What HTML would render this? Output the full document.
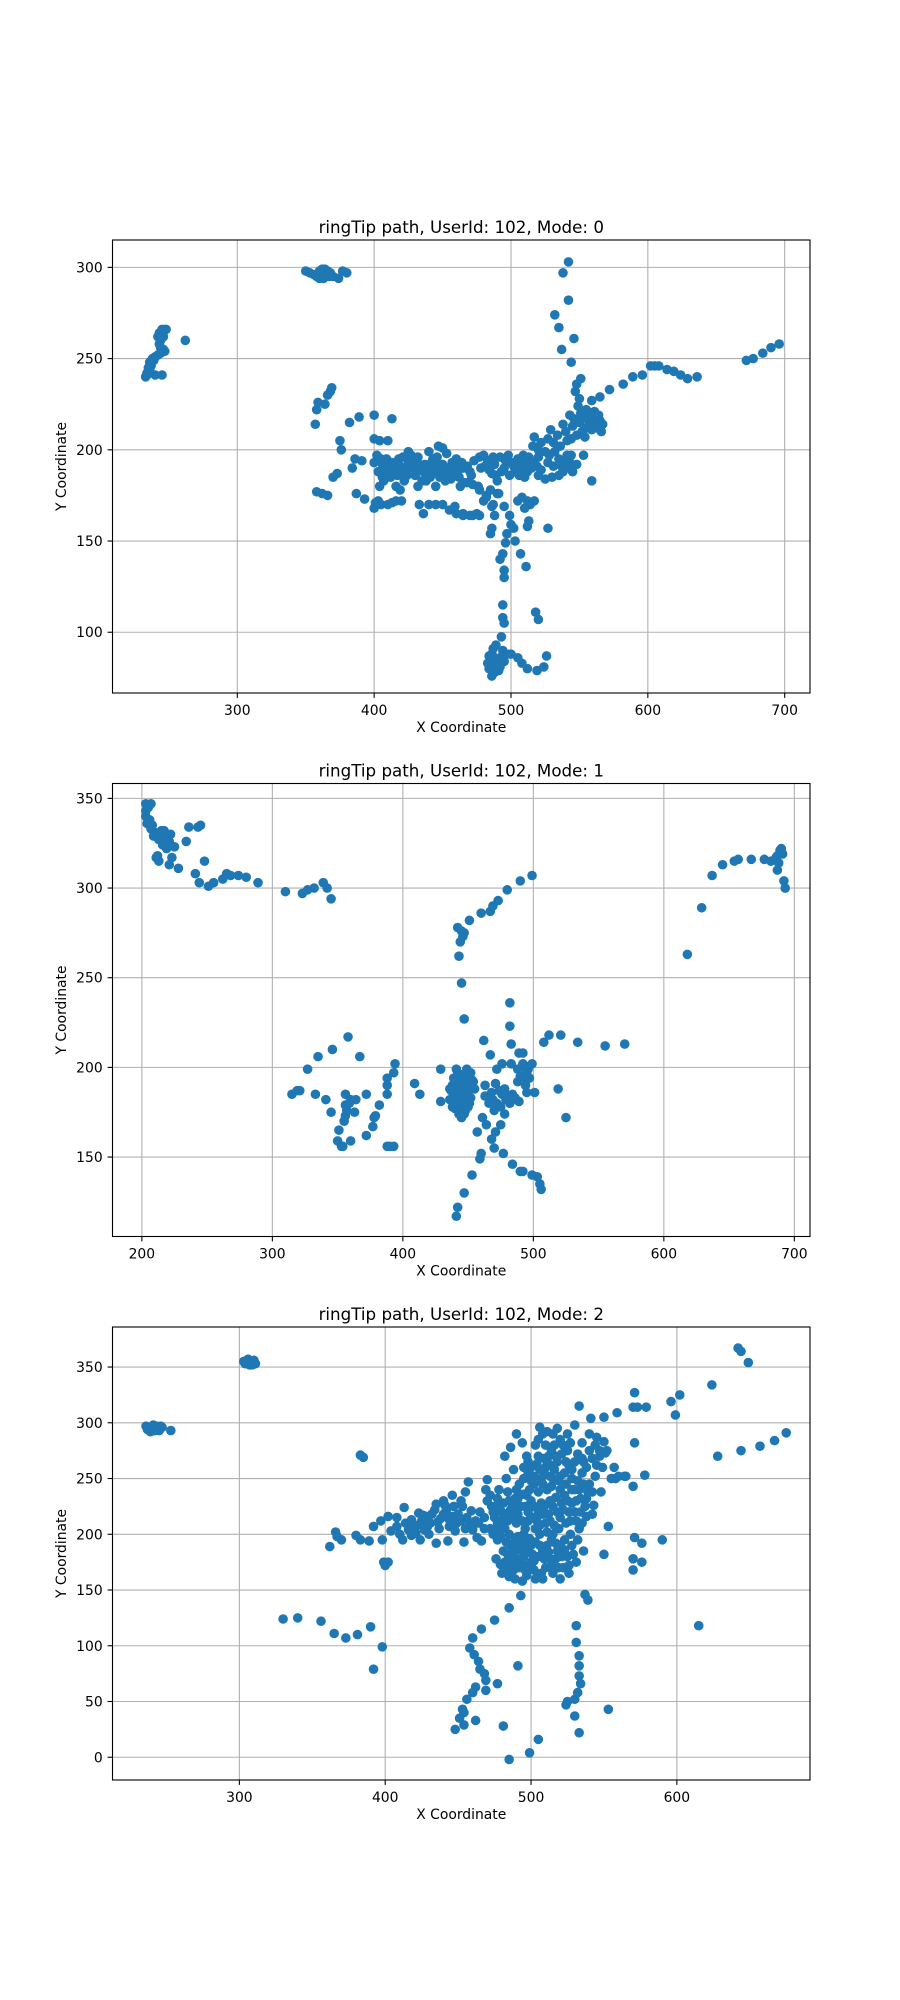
<!DOCTYPE html>
<html><head><meta charset="utf-8"><title>ringTip path</title>
<style>
html,body{margin:0;padding:0;background:#fff;}
svg{display:block;font-family:"DejaVu Sans","Liberation Sans",sans-serif;}
</style></head>
<body>
<svg id="fig" width="900" height="2000" viewBox="0 0 900 2000" xmlns="http://www.w3.org/2000/svg"></svg>
<script>
const mode0Points = [
[233,240],[234,242],[235,245],[236,248],[238,250],[240,251],[242,252],[244,253],[246,255],[247,254],[243,258],[242,262],[243,264],[245,266],[247,266],[248,266],[244,260],[240,241],[245,241],[262,260],[236,244],[234,241],[237,246],[239,249],[244,256],[246,262],
[350,298],[353,297],[356,296],[358,295],[360,294],[362,299],[364,299],[366,298],[363,294],[367,295],[370,295],[374,294],[377,298],[380,297],[360,298],[365,296],[361,296],[368,297],
[357,214],[358,222],[359,226],[364,225],[366,230],[368,232],[369,234],
[370,185],[373,187],[375,205],[376,200],[382,215],[389,218],[400,219],[413,217],[386,195],[391,194],[384,190],[387,176],[393,173],[358,177],[362,176],[366,175],[400,168],[401,171],[405,170],[410,170],[413,171],[416,172],[400,206],[404,205],[400,193],
[405,195],[408,188],[410,192],[412,185],[415,190],[418,195],[420,188],[422,183],[425,193],[428,190],[430,186],[433,192],[436,188],[438,183],[440,190],[443,195],[445,188],[448,185],[450,192],[452,183],[455,190],[458,188],[460,195],[462,185],[465,190],[468,182],[470,188],[473,194],[476,180],[478,190],[480,197],[483,194],[486,187],[488,192],[490,183],[492,196],[495,190],[498,197],[500,193],[503,188],[505,195],[508,190],[510,185],[513,196],[416,180],[419,178],[432,180],[435,183],[445,180],[447,202],[450,201],[453,198],[440,199],[425,199],[410,205],[463,180],[466,182],[407,183],[404,180],[427,197],[403,188],[406,192],[414,187],[417,193],[423,190],[429,194],[434,189],[439,187],[444,191],[449,189],[454,186],[457,193],
[402,197],[406,185],[409,195],[411,189],[413,193],[417,186],[419,191],[421,196],[424,186],[426,191],[431,189],[432,196],[437,192],[441,185],[442,193],[446,196],[448,192],[451,187],[453,190],[456,184],[459,191],[461,188],[464,193],[471,186],[477,196],[481,191],[484,189],[487,196],[489,186],[493,188],[496,194],[499,186],[502,191],[507,193],[509,197],[512,188],[516,193],[519,191],[522,189],[527,193],[531,191],[535,195],[538,188],[541,197],[543,193],
[433,170],[440,170],[445,170],[450,170],[436,165],[455,167],[460,165],[465,164],[470,164],[475,165],[480,172],[482,175],[485,178],[487,170],[403,172],[420,172],
[542,303],[538,297],[542,282],[532,274],[535,267],[546,261],[537,255],[544,248],[551,239],[548,236],[547,232],[550,228],[559,227],[565,229],[572,233],[582,236],[589,240],[596,241],[602,246],[605,246],[608,246],[614,244],[619,243],[624,241],[629,239],[636,240],[672,249],[677,250],[684,253],[690,256],[696,258],
[555,222],[558,220],[562,218],[565,216],[560,214],[555,212],[552,210],[548,208],[563,212],[566,210],[550,215],[545,213],[540,210],[556,217],[561,221],[559,211],[553,218],[544,206],[557,215],[564,219],[567,214],[551,220],[554,207],[546,217],[549,224],[543,219],[538,214],
[529,211],[517,207],[516,202],[553,197],[559,183],[527,157],[522,204],[534,208],[525,199],[531,204],[536,202],[527,206],[520,200],[541,205],
[539,194],[540,190],[545,188],[535,186],[530,185],[525,184],[520,186],[515,190],[510,193],[520,196],[528,197],[532,199],[506,186],[537,191],[542,192],[544,197],[548,192],
[508,174],[512,172],[514,170],[510,168],[505,172],[517,172],[513,161],[512,158],
[500,159],[502,157],[497,154],[485,154],[486,157],[488,164],[486,169],[482,174],[490,176],[495,169],[499,164],[503,150],[496,149],[494,143],[492,140],[507,143],[511,136],[495,134],[495,130],[494,115],[494,108],[495,105],[518,111],[520,107],[493,97.5],
[500,88],[505,86],[508,83],[512,80],[519,79],[524,81],[526,87],
[484,80],[485,84],[486,88],[487,91],[488,78],[490,82],[492,86],[494,90],[495,84],[497,88],[486,76],[489,93],[484,87],[491,79],[483,83],[488,86],[492,81],
[468,191],[472,181],[477,178],[459,169],[465,165],[472,164],[477,164],[491,176]
];
const mode1Points = [
[203,343],[207,347],[203,340],[204,336],[207,333],[210,331],[214,330],[217,332],[216,328],[221,326],[225,323],[219,322],[211,317],[213,315],[223,317],[221,313],[228,311],[234,326],[236,334],[243,334],[248,315],[241,308],[244,303],[251,301],[255,303],[262,305],[265,308],[274,307],[280,306],[289,303],[203,347],[206,338],[209,329],[212,318],[218,327],[222,330],[245,335],[268,307],[205,345],[208,335],[213,327],[216,324],[220,329],[215,332],
[310,298],[323,297],[327,299],[332,300],[339,303],[342,300],[345,294],
[618,263],[629,289],[637,307],[645,313],[654,315],[657,316],[667,316],[677,316],[682,315],[686,317],[687,318],[689,321],[690,322],[687,310],[692,304],[693,300],[688,314],[691,319],
[499,307],[490,304],[480,299],[473,293],[469,290],[467,287],[460,286],[451,282],[445,276],[442,278],[444,270],[443,262],[445,247],[447,227],[447,275],[446,273],
[482,236],[482,223],[483,213],[489,208],[492,208],[467,207],[462,215],[512,218],[521,218],[508,214],[534,214],[555,212],[570,213],
[441,199],[444,196],[447,193],[445,190],[442,187],[448,185],[446,182],[443,180],[450,178],[444,176],[447,174],[452,183],[455,188],[438,190],[440,185],[436,182],[449,196],[453,193],[445,172],[442,178],[439,194],[451,190],[443,184],[446,179],
[437,187],[440,192],[443,190],[446,188],[448,190],[450,186],[439,182],[441,181],[444,186],[447,180],[449,182],[451,180],[440,177],[443,174],[446,176],[448,176],[445,194],[442,197],[449,199],[452,197],[454,192],[441,189],[436,188],[438,178],
[463,190],[471,191],[463,184],[469,182],[476,185],[480,184],[484,185],[489,181],[488,192],[495,197],[499,202],[492,202],[483,202],[476,202],[472,199],[495,186],[501,186],[519,188],[525,172],[475,178],[478,174],[475,168],[471,164],[457,164],[461,172],[464,168],[468,160],[470,155],[460,152],[459,149],[477,152],[484,146],[490,142],[492,142],[499,140],[503,139],[505,135],[506,132],[453,140],[447,130],[442,122],[441,117],[429,181],[429,199],[409,191],[413,185],
[490,195],[493,193],[496,199],[497,194],[494,190],[486,183],[482,180],[479,182],[472,180],[468,186],[474,187],[478,188],[493,200],[488,199],[466,180],[470,176],
[315,185],[319,187],[321,187],[327,199],[333,185],[335,206],[341,182],[345,175],[346,210],[358,217],[367,206],[372,185],[356,185],[356,179],[360,182],[363,175],[356,173],[355,170],[351,165],[350,159],[353,156],[354,156],[360,159],[372,162],[377,167],[379,173],[382,179],[388,185],[388,190],[388,194],[393,197],[394,202],[388,156],[393,156],[390,156],[378,172],[364,182],[359,180],[357,176]
];
const mode2Points = [
[236,297],[238,296],[240,294],[242,293],[244,295],[246,297],[247,296],[241,298],[239,292],[253,293],[243,297],[245,293],[237,294],
[303,355],[306,357],[308,354],[310,356],[311,353],[304,353],[307,352],[305,356],[309,352],
[642,367],[644,364],[649,354],[624,334],[602,325],[596,319],[599,307],[571,327],[579,314],[570,314],[573,314],[559,309],[550,305],[533,315],[541,304],[571,282],[628,270],[644,275],[657,279],[667,284],[675,291],[578,253],[570,243],[553,207],[550,182],[571,197],[576,192],[590,195],[570,178],[576,175],[570,168],[557,260],[551,273],[564,252],[544,252],[558,250],
[537,146],[539,141],[493,145],[485,134],[475,123],[466,115],[460,107],[458,98],[461,92],[464,86],[465,79],[468,75],[469,69],[462,63],[460,58],[456,52],[453,43],[454,40],[451,35],[454,29],[448,25],[462,33],[469,60],[477,66],[481,28],[491,82],[485,-2],[499,4],[505,16],[531,118],[531,103],[533,91],[533,82],[533,73],[534,66],[532,58],[530,52],[525,50],[524,47],[530,37],[533,22],[553,43],[615,118],
[330,124],[340,125],[356,122],[365,111],[373,107],[381,110],[390,117],[398,99],[392,79],[383,271],[385,269],
[366,202],[367,198],[362,189],[370,195],[380,199],[383,195],[389,194],[398,195],[399,175],[402,175],[400,172],[392,207],[397,212],[402,216],[408,215],[413,224],[423,219],[426,217],[431,210],[435,227],[440,230],[446,235],[449,210],[459,221],[460,204],[454,193],[443,194],[435,192],[424,195],[412,195],[408,207],[416,204],[427,204],[446,216],[442,222],[434,222],[457,247],[470,249],[466,194],[420,207],[438,214],[444,207],[452,212],[430,200],[418,199],[404,203],
[410,200],[414,210],[418,213],[422,208],[425,212],[428,216],[432,218],[436,211],[437,205],[440,218],[441,226],[444,213],[447,225],[448,203],[450,218],[453,225],[455,205],[456,215],[458,210],[462,212],[463,197],[465,220],[468,205],[469,240],[472,235],[473,225],[455,238],[452,230],[429,207],[421,201],
[480,220],[485,230],[490,240],[495,250],[500,260],[505,270],[510,280],[515,290],[520,285],[525,275],[530,265],[535,255],[540,245],[510,260],[515,250],[520,240],[525,230],[530,220],[535,210],[500,230],[505,220],[510,210],[515,200],[520,190],[525,180],[490,210],[495,200],[500,190],[505,180],[510,170],[515,165],[485,200],[490,190],[487,180],[492,170],[497,163],[503,160],[480,165],[485,162],[478,240],[475,215],[472,205],[470,230],[483,250],[488,258],[497,270],[503,280],[508,290],[512,270],[518,265],[523,255],[528,250],[533,240],[538,232],[543,226],[548,238],[545,262],[540,275],[535,282],[525,290],[518,295],[530,298],[545,287],[550,283],[552,275],[511,240],[507,250],[502,245],[497,235],[493,225],[487,215],[482,205],[477,195],[481,185],[520,215],[515,225],[527,200],[532,195],[522,170],[517,178],[506,200],[511,190],[498,212],[505,238],[513,230],[519,205],[524,210],[528,190],[531,175],[536,185],[482,175],[488,168],[495,180],[500,175],[502,168],[494,158],[486,166],[482,270],[486,278],[490,290],[494,282],[506,296],[536,265],[540,290],[547,270],[555,250],[560,252],[565,252],[530,240],[528,228],[534,220],[538,216],
[476,225],[479,212],[484,238],[492,245],[498,255],[504,263],[509,255],[514,243],[517,233],[522,222],[527,212],[512,218],[507,228],[503,205],[499,196],[508,185],[513,178],[518,185],[523,195],[533,205],[537,225],[542,238],[526,262],[521,272],[516,280],[511,265],[496,225],[489,232],[474,220],[468,215],[464,210],[478,205],[520,252],[531,230],[491,198],[488,185],[496,172],[507,165],[514,195],[529,182],
[477,232],[481,228],[483,218],[486,222],[489,225],[491,218],[494,212],[496,205],[498,220],[501,215],[502,225],[504,212],[506,208],[508,218],[509,225],[511,202],[513,212],[516,208],[518,220],[521,228],[523,235],[524,245],[526,220],[528,240],[531,212],[532,248],[534,232],[536,245],[539,238],[542,218],[519,248],[516,258],[513,262],[509,268],[506,258],[502,252],[499,240],[495,236],[491,232],[488,224],[484,212],[480,208],[477,210],[474,200],[479,198],[483,193],[486,190],[489,196],[492,186],[494,192],[497,186],[501,182],[503,193],[506,190],[509,178],[512,184],[514,172],[517,192],[519,170],[521,180],[523,186],[526,172],[484,182],[487,175],[490,178],[493,175],[496,168],[499,170],[502,176],[505,163],[508,160],[489,160],[483,170],[479,173],[476,178],[520,160],[526,165],
[505,285],[511,292],[514,275],[517,270],[522,280],[527,282],[532,272],[535,268],[538,260],[542,268],[544,280],[547,275],[549,260],[524,265],[528,258],[513,252],[508,245],[500,248],[498,265],[495,260]
];
const xTicks0=[300,400,500,600,700], yTicks0=[100,150,200,250,300];
const xTicks1=[200,300,400,500,600,700], yTicks1=[150,200,250,300,350];
const xTicks2=[300,400,500,600], yTicks2=[0,50,100,150,200,250,300,350];
const titles=["ringTip path, UserId: 102, Mode: 0","ringTip path, UserId: 102, Mode: 1","ringTip path, UserId: 102, Mode: 2"];

const NS="http://www.w3.org/2000/svg";
const svg=document.getElementById('fig');
function mk(tag,attrs,parent){const e=document.createElementNS(NS,tag);for(const k in attrs)e.setAttribute(k,attrs[k]);(parent||svg).appendChild(e);return e;}

const panels=[
 {pts:mode0Points,xt:xTicks0,yt:yTicks0,x0:208.8,x1:718.5,y0:66.7,y1:315,top:240,bot:693},
 {pts:mode1Points,xt:xTicks1,yt:yTicks1,x0:177.5,x1:712,y0:105.7,y1:358.3,top:783.5,bot:1236.5},
 {pts:mode2Points,xt:xTicks2,yt:yTicks2,x0:213,x1:691.3,y0:-20.4,y1:385.9,top:1327,bot:1780}
];
const L=112.5,R=810;
panels.forEach((p,i)=>{
 const g=mk('g',{});
 
 
 const sx=v=>L+(v-p.x0)/(p.x1-p.x0)*(R-L);
 const sy=v=>p.bot-(v-p.y0)/(p.y1-p.y0)*(p.bot-p.top);
 p.xt.forEach(t=>{const e=mk('line',{x1:sx(t),x2:sx(t),y1:p.top,y2:p.bot,stroke:'#b0b0b0','stroke-width':1.1},g);
  
  
  const tk=mk('line',{x1:sx(t),x2:sx(t),y1:p.bot,y2:p.bot+4.9,stroke:'#000','stroke-width':1.1},g);
  
  
  const tx=mk('text',{x:sx(t),y:p.bot+22,'text-anchor':'middle','font-size':13.9,fill:'#000'},g);tx.textContent=t;
  
  });
 p.yt.forEach(t=>{const e=mk('line',{x1:L,x2:R,y1:sy(t),y2:sy(t),stroke:'#b0b0b0','stroke-width':1.1},g);
  
  
  const tk=mk('line',{x1:L-4.9,x2:L,y1:sy(t),y2:sy(t),stroke:'#000','stroke-width':1.1},g);
  
  
  const tx=mk('text',{x:L-9.8,y:sy(t)+5,'text-anchor':'end','font-size':13.9,fill:'#000'},g);tx.textContent=t;
  
  });
 p.pts.forEach(pt=>{const c=mk('circle',{cx:sx(pt[0]),cy:sy(pt[1]),r:4.8,fill:'#1f77b4'},g);
  
  });
 const f=mk('rect',{x:L,y:p.top,width:R-L,height:p.bot-p.top,fill:'none',stroke:'#000','stroke-width':1.1},g);
 
 
 const t=mk('text',{x:(L+R)/2,y:p.top-7,'text-anchor':'middle','font-size':16.7,fill:'#000'},g);t.textContent=titles[i];
 
 
 const xl=mk('text',{x:(L+R)/2,y:p.bot+39,'text-anchor':'middle','font-size':13.9,fill:'#000'},g);xl.textContent='X Coordinate';
 
 
 const cy=(p.top+p.bot)/2;
 const yl=mk('text',{x:66,y:cy,'text-anchor':'middle','font-size':13.9,fill:'#000',transform:'rotate(-90 66 '+cy+')'},g);yl.textContent='Y Coordinate';
 
 
});
</script>
</body></html>
